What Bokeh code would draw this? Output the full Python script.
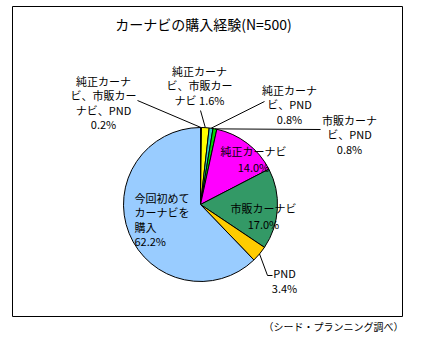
import math
from bokeh.plotting import figure
from bokeh.models import Range1d, ColumnDataSource
from bokeh.core.properties import value
from bokeh.embed import file_html
from bokeh.resources import INLINE

# ---- data ----
categories = ["純正カーナビ、市販カーナビ、PND", "純正カーナビ、市販カーナビ",
              "純正カーナビ、PND", "市販カーナビ、PND", "純正カーナビ",
              "市販カーナビ", "PND", "今回初めてカーナビを購入"]
shares = [0.2, 1.6, 0.8, 0.8, 14.0, 17.0, 3.4, 62.2]
colors = ["#000000", "#FFFF00", "#33CCCC", "#00DD00", "#FF00FF",
          "#339966", "#FFCC00", "#99CCFF"]
label_lines = [
    ["純正カーナ", "ビ、市販カー", "ナビ、PND", "0.2%"],
    ["純正カーナ", "ビ、市販カー", "ナビ 1.6%"],
    ["純正カーナ", "ビ、PND", "0.8%"],
    ["市販カーナ", "ビ、PND", "0.8%"],
    ["純正カーナビ", "14.0%"],
    ["市販カーナビ", "17.0%"],
    ["PND", "3.4%"],
    ["今回初めて", "カーナビを", "購入", "62.2%"],
]
title = "カーナビの購入経験(N=500)"
source_note = "（シード・プランニング調べ）"

FONT = "Noto Sans CJK JP"
W, H = 413, 344


def Y(img_y):
    return 360 - img_y


p = figure(width=W, height=H, output_backend="svg", toolbar_location=None,
           x_range=Range1d(8, 8 + W), y_range=Range1d(8, 8 + H),
           x_axis_type=None, y_axis_type=None, min_border=0)
p.outline_line_color = None
p.grid.visible = False
p.background_fill_color = "white"
p.border_fill_color = "white"

# frame box
p.quad(left=[20], right=[410], bottom=[Y(324)], top=[Y(14)],
       fill_color=None, line_color="black", line_width=1)

# pie
cx, cy, r = 208, Y(212), 77
total = sum(shares)
cum = [0.0]
for s in shares:
    cum.append(cum[-1] + s)
start = [math.pi / 2 - 2 * math.pi * cum[i + 1] / total for i in range(len(shares))]
end = [math.pi / 2 - 2 * math.pi * cum[i] / total for i in range(len(shares))]
mid = [(a + b) / 2 for a, b in zip(start, end)]
src = ColumnDataSource(dict(x=[cx] * len(shares), y=[cy] * len(shares),
                            start=start, end=end, color=colors, cat=categories))
p.wedge(x="x", y="y", radius=r, start_angle="start", end_angle="end",
        direction="anticlock", fill_color="color", line_color="black",
        line_width=1, source=src)


def edge(i):
    return cx + r * math.cos(mid[i]), cy + r * math.sin(mid[i])


# leader lines (start on the slice edge, end at the label)
leader_ends = {
    0: [(145, Y(108))],
    1: [(208, Y(118))],
    2: [(272, Y(109))],
    3: [(328, Y(137))],
    6: [(275, Y(283)), (280, Y(283))],
}
xs, ys = [], []
for i, pts in leader_ends.items():
    ex, ey = edge(i)
    xs.append([ex] + [q[0] for q in pts])
    ys.append([ey] + [q[1] for q in pts])
p.multi_line(xs=xs, ys=ys, line_color="black", line_width=1)

# labels: (x, first line y, spacing, align)
label_pos = [
    (111, 88, 14.5, "center"),
    (207, 78, 14.5, "center"),
    (297, 97, 14.5, "center"),
    (357, 127, 14.5, "center"),
    (261, 158, 16, "center"),
    (271, 215, 16.5, "center"),
    (292, 280, 15, "center"),
    (142, 205, 14.5, "left"),
]
for (lx, ly, sp, al), lines in zip(label_pos, label_lines):
    p.text(x=[lx] * len(lines), y=[Y(ly + k * sp) for k in range(len(lines))],
           text=lines, text_font=value(FONT), text_font_size="11px",
           text_align=al, text_baseline="middle", text_color="black")

# title and source
p.text(x=[211], y=[Y(31)], text=[title], text_font=value(FONT),
       text_font_size="14px", text_align="center", text_baseline="middle",
       text_color="black")
p.text(x=[341], y=[Y(334)], text=[source_note], text_font=value(FONT),
       text_font_size="10px", text_align="center", text_baseline="middle",
       text_color="black")

open("out.html", "w").write(file_html(p, INLINE))
